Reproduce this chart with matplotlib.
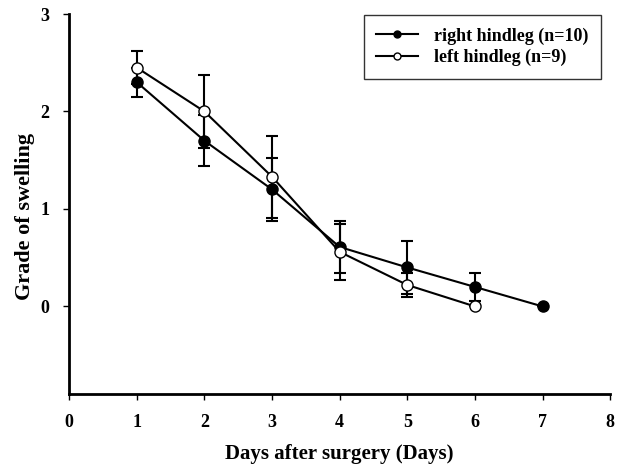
import matplotlib
matplotlib.use("Agg")
import matplotlib.pyplot as plt
from matplotlib.lines import Line2D

days_right = [1, 2, 3, 4, 5, 6, 7]
right_mean = [2.30, 1.70, 1.20, 0.61, 0.40, 0.20, 0.00]
right_err = [0.15, 0.26, 0.32, 0.27, 0.27, 0.14, 0.0]

days_left = [1, 2, 3, 4, 5, 6]
left_mean = [2.45, 2.00, 1.33, 0.56, 0.22, 0.00]
left_err = [0.17, 0.37, 0.42, 0.29, 0.12, 0.0]

xticks = [0, 1, 2, 3, 4, 5, 6, 7, 8]
yticks = [0, 1, 2, 3]
labels = ['right hindleg (n=10)', 'left hindleg (n=9)']

plt.rcParams['font.family'] = ['Liberation Serif', 'DejaVu Serif']
plt.rcParams['font.weight'] = 'bold'

fig = plt.figure(figsize=(6.29, 4.67), dpi=100)
ax = fig.add_axes([0.110, 0.156, 0.860, 0.814])

ax.errorbar(days_right, right_mean, yerr=right_err, color='black', lw=1.5,
            marker='o', ms=8, mfc='black', mec='black', ecolor='black',
            elinewidth=1.5, capsize=4.5, capthick=1.5, zorder=3)
ax.errorbar(days_left, left_mean, yerr=left_err, color='black', lw=1.5,
            marker='o', ms=8, mfc='white', mec='black', ecolor='black',
            elinewidth=1.5, capsize=4.5, capthick=1.5, zorder=4)

ax.set_xlim(0, 8)
ax.set_ylim(-0.9, 3)
ax.set_xticks(xticks)
ax.set_yticks(yticks)
ax.tick_params(axis='both', labelsize=13, length=4, width=1, direction='out')
ax.tick_params(axis='x', pad=10)
ax.tick_params(axis='y', pad=10)
for lab in ax.get_xticklabels() + ax.get_yticklabels():
    lab.set_fontweight('bold')
ax.spines['top'].set_visible(False)
ax.spines['right'].set_visible(False)
ax.spines['left'].set_linewidth(2)
ax.spines['bottom'].set_linewidth(2)

ax.set_xlabel('Days after surgery (Days)', fontsize=15, fontweight='bold', labelpad=10)
ax.set_ylabel('Grade of swelling', fontsize=16, fontweight='bold')
ax.yaxis.set_label_coords(-0.081, 0.468)
ax.yaxis.label.set_va('center')

handles = [
    Line2D([], [], color='black', lw=1.5, marker='o', ms=5, mfc='black', mec='black'),
    Line2D([], [], color='black', lw=1.5, marker='o', ms=5, mfc='white', mec='black'),
]
leg = ax.legend(handles, labels, loc='upper right', bbox_to_anchor=(1.0, 1.022), fontsize=13,
                frameon=True, fancybox=False, edgecolor='black',
                handlelength=2.3, borderpad=0.7, labelspacing=0.25, handletextpad=0.9)
leg.get_frame().set_linewidth(1)
for t in leg.get_texts():
    t.set_fontweight('bold')

fig.savefig('out.png', dpi=100)
